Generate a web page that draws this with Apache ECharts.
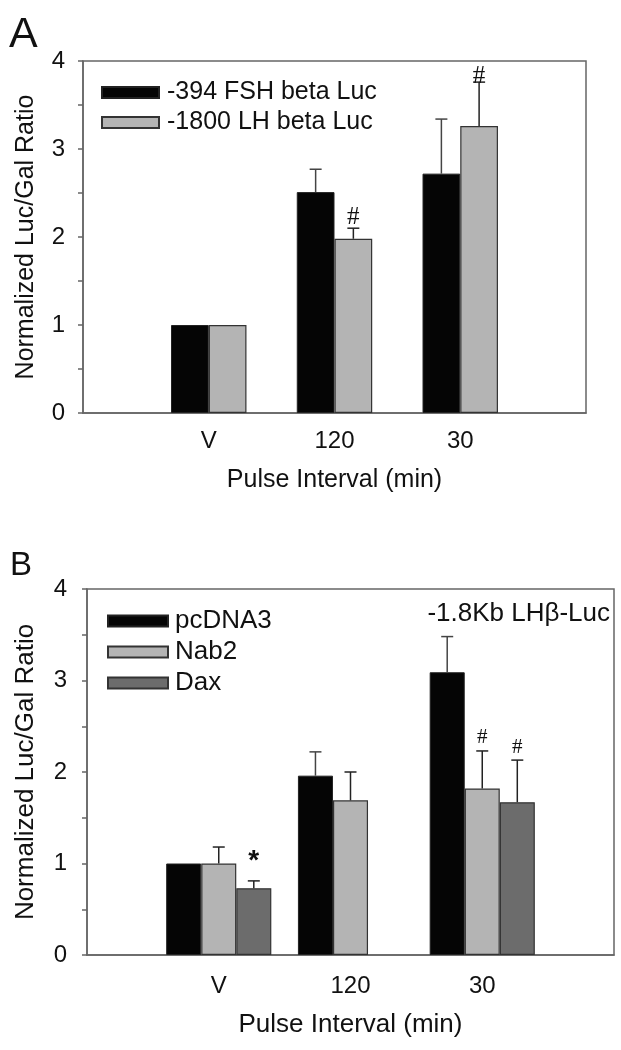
<!DOCTYPE html>
<html>
<head>
<meta charset="utf-8">
<script src="https://cdn.jsdelivr.net/npm/echarts@6/dist/echarts.min.js"></script>
<style>
  html, body { margin: 0; padding: 0; background: #fff; }
  #chart { width: 621px; height: 1050px; }
</style>
</head>
<body>
<div id="chart"></div>
<script>
// ---------- data ----------
const categories = ['V', '120', '30'];
const yTicks = [0, 1, 2, 3, 4];

// Panel A
const fshBetaLuc = [1.0, 2.51, 2.72];
const fshBetaLucErr = [0, 0.26, 0.62];
const lhBetaLuc = [1.0, 1.98, 3.26];
const lhBetaLucErr = [0, 0.12, 0.50];
const marksASymbol = ['#', '#'];
const marksACat = ['120', '30'];
const marksASeries = [1, 1];
const marksAY = [2.22, 3.83];

// Panel B
const pcDNA3 = [1.0, 1.96, 3.09];
const pcDNA3Err = [0, 0.26, 0.39];
const nab2 = [1.0, 1.69, 1.82];
const nab2Err = [0.18, 0.31, 0.41];
const dax = [0.73, null, 1.67];
const daxErr = [0.08, null, 0.46];
const marksBSymbol = ['*', '#', '#'];
const marksBCat = ['V', '30', '30'];
const marksBSeries = [2, 1, 2];
const marksBY = [1.08, 2.38, 2.27];

// ---------- helpers ----------
const FONT = "'Liberation Sans', Arial, Helvetica, sans-serif";
const axisCats = [''].concat(categories, ['']);
const pad = arr => [null].concat(arr, [null]);
const AXIS_COLOR = '#666';
const TEXT_COLOR = '#111';

function errData(vals, errs, k, n, frac) {
  return vals.map((v, i) => (v == null || errs[i] == null) ? null : [i + 1, v, v + errs[i], k, n, frac])
             .filter(d => d !== null && d[2] > d[1]);
}
function markData(cats, series, ys, syms, n, frac) {
  return ys.map((y, i) => [categories.indexOf(cats[i]) + 1, y, series[i], n, frac, syms[i]]);
}

function errSeries(xi, yi, vals, errs, k, n, frac, color) {
  return {
    type: 'custom', xAxisIndex: xi, yAxisIndex: yi, z: 5,
    data: errData(vals, errs, k, n, frac),
    renderItem: function (params, api) {
      const bandW = api.size([1, 0])[0];
      const barW = bandW * api.value(5);
      const off = (api.value(3) - (api.value(4) - 1) / 2) * barW;
      const p0 = api.coord([api.value(0), api.value(1)]);
      const p1 = api.coord([api.value(0), api.value(2)]);
      const x = p0[0] + off;
      const cap = 6;
      return {
        type: 'group',
        children: [
          { type: 'line', shape: { x1: x, y1: p0[1], x2: x, y2: p1[1] }, style: { stroke: color, lineWidth: 1.5 } },
          { type: 'line', shape: { x1: x - cap, y1: p1[1], x2: x + cap, y2: p1[1] }, style: { stroke: color, lineWidth: 1.5 } }
        ]
      };
    }
  };
}

function markSeries(xi, yi, data, fonts) {
  return {
    type: 'custom', xAxisIndex: xi, yAxisIndex: yi, z: 6,
    data: data,
    renderItem: function (params, api) {
      const bandW = api.size([1, 0])[0];
      const barW = bandW * api.value(4);
      const off = (api.value(2) - (api.value(3) - 1) / 2) * barW;
      const p = api.coord([api.value(0), api.value(1)]);
      const sym = data[params.dataIndex][5];
      const f = fonts[sym];
      return {
        type: 'text',
        style: {
          text: sym, x: p[0] + off, y: p[1] + f.dy,
          align: 'center', verticalAlign: 'middle',
          font: f.font, fill: '#111'
        }
      };
    }
  };
}

const FRAC_A = 0.30;
const FRAC_B = 0.266;

const chart = echarts.init(document.getElementById('chart'), null, { renderer: 'canvas' });

function xAxisCfg(gi, labelSize, margin, nameSize, nameGap) {
  return {
    type: 'category', gridIndex: gi, data: axisCats, boundaryGap: false,
    axisLine: { lineStyle: { color: AXIS_COLOR, width: 1.5 } },
    axisTick: { show: false },
    axisLabel: { fontSize: labelSize, color: TEXT_COLOR, margin: margin, fontFamily: FONT, interval: 0 },
    splitLine: { show: false },
    name: 'Pulse Interval (min)', nameLocation: 'middle', nameGap: nameGap,
    nameTextStyle: { fontSize: nameSize, color: TEXT_COLOR, fontFamily: FONT }
  };
}
function yAxisCfg(gi, labelSize, margin, nameSize, nameGap) {
  return {
    type: 'value', gridIndex: gi, min: yTicks[0], max: yTicks[yTicks.length - 1], interval: 1,
    axisLine: { show: true, lineStyle: { color: AXIS_COLOR, width: 1.5 } },
    axisTick: { show: true, inside: false, length: 5, lineStyle: { color: AXIS_COLOR, width: 1.5 } },
    minorTick: { show: true, splitNumber: 2, length: 5, lineStyle: { color: AXIS_COLOR, width: 1.5 } },
    axisLabel: { fontSize: labelSize, color: TEXT_COLOR, margin: margin, fontFamily: FONT },
    splitLine: { show: false },
    name: 'Normalized Luc/Gal Ratio', nameLocation: 'middle', nameGap: nameGap,
    nameTextStyle: { fontSize: nameSize, color: TEXT_COLOR, fontFamily: FONT }
  };
}

const BLACK = '#050505', LIGHT = '#b4b4b4', DARK = '#6c6c6c', EDGE = '#333';

const option = {
  animation: false,
  backgroundColor: '#fff',
  textStyle: { fontFamily: FONT },
  title: [
    { text: 'A', left: 4, top: 9, textStyle: { fontSize: 43, fontWeight: 'normal', color: TEXT_COLOR, fontFamily: FONT } },
    { text: 'B', left: 5, top: 544, textStyle: { fontSize: 33, fontWeight: 'normal', color: TEXT_COLOR, fontFamily: FONT } }
  ],
  grid: [
    { left: 83, top: 61, width: 503, height: 352, show: true, borderColor: AXIS_COLOR, borderWidth: 1.5, containLabel: false },
    { left: 87, top: 589, width: 527, height: 366, show: true, borderColor: AXIS_COLOR, borderWidth: 1.5, containLabel: false }
  ],
  legend: [
    {
      orient: 'vertical', left: 96, top: 75, itemWidth: 57, itemHeight: 11, itemGap: 5,
      icon: 'rect', data: ['-394 FSH beta Luc', '-1800 LH beta Luc'],
      textStyle: { fontSize: 25, color: TEXT_COLOR, fontFamily: FONT, padding: [0, 0, 0, 3] }
    },
    {
      orient: 'vertical', left: 102, top: 603, itemWidth: 60, itemHeight: 11, itemGap: 5,
      icon: 'rect', data: ['pcDNA3', 'Nab2', 'Dax'],
      textStyle: { fontSize: 26, color: TEXT_COLOR, fontFamily: FONT, padding: [0, 0, 0, 2] }
    }
  ],
  xAxis: [xAxisCfg(0, 24, 16, 25, 55), xAxisCfg(1, 24, 19, 26, 57)],
  yAxis: [yAxisCfg(0, 24, 18, 25, 44), yAxisCfg(1, 24, 20, 26, 48)],
  graphic: [
    { type: 'text', style: { text: '-1.8Kb LH\u03B2-Luc', x: 610, y: 614, align: 'right', verticalAlign: 'middle', font: "26px 'Liberation Sans', Arial, sans-serif", fill: TEXT_COLOR } }
  ],
  series: [
    { name: '-394 FSH beta Luc', type: 'bar', xAxisIndex: 0, yAxisIndex: 0, data: pad(fshBetaLuc), barWidth: (FRAC_A * 100) + '%', barGap: '0%',
      itemStyle: { color: BLACK, borderColor: '#222', borderWidth: 1 } },
    { name: '-1800 LH beta Luc', type: 'bar', xAxisIndex: 0, yAxisIndex: 0, data: pad(lhBetaLuc), barWidth: (FRAC_A * 100) + '%', barGap: '0%',
      itemStyle: { color: LIGHT, borderColor: EDGE, borderWidth: 1.2 } },
    errSeries(0, 0, fshBetaLuc, fshBetaLucErr, 0, 2, FRAC_A, '#444'),
    errSeries(0, 0, lhBetaLuc, lhBetaLucErr, 1, 2, FRAC_A, '#222'),
    markSeries(0, 0, markData(marksACat, marksASeries, marksAY, marksASymbol, 2, FRAC_A),
      { '#': { font: "25px 'Liberation Serif', 'Times New Roman', serif", dy: 0 } }),

    { name: 'pcDNA3', type: 'bar', xAxisIndex: 1, yAxisIndex: 1, data: pad(pcDNA3), barWidth: (FRAC_B * 100) + '%', barGap: '0%',
      itemStyle: { color: BLACK, borderColor: '#222', borderWidth: 1 } },
    { name: 'Nab2', type: 'bar', xAxisIndex: 1, yAxisIndex: 1, data: pad(nab2), barWidth: (FRAC_B * 100) + '%', barGap: '0%',
      itemStyle: { color: LIGHT, borderColor: EDGE, borderWidth: 1.2 } },
    { name: 'Dax', type: 'bar', xAxisIndex: 1, yAxisIndex: 1, data: pad(dax), barWidth: (FRAC_B * 100) + '%', barGap: '0%',
      itemStyle: { color: DARK, borderColor: EDGE, borderWidth: 1.2 } },
    errSeries(1, 1, pcDNA3, pcDNA3Err, 0, 3, FRAC_B, '#444'),
    errSeries(1, 1, nab2, nab2Err, 1, 3, FRAC_B, '#222'),
    errSeries(1, 1, dax, daxErr, 2, 3, FRAC_B, '#222'),
    markSeries(1, 1, markData(marksBCat, marksBSeries, marksBY, marksBSymbol, 3, FRAC_B),
      { '#': { font: "21px 'Liberation Serif', 'Times New Roman', serif", dy: 0 },
        '*': { font: "bold 28px 'Liberation Sans', Arial, sans-serif", dy: 5 } })
  ]
};
chart.setOption(option);
</script>
</body>
</html>
